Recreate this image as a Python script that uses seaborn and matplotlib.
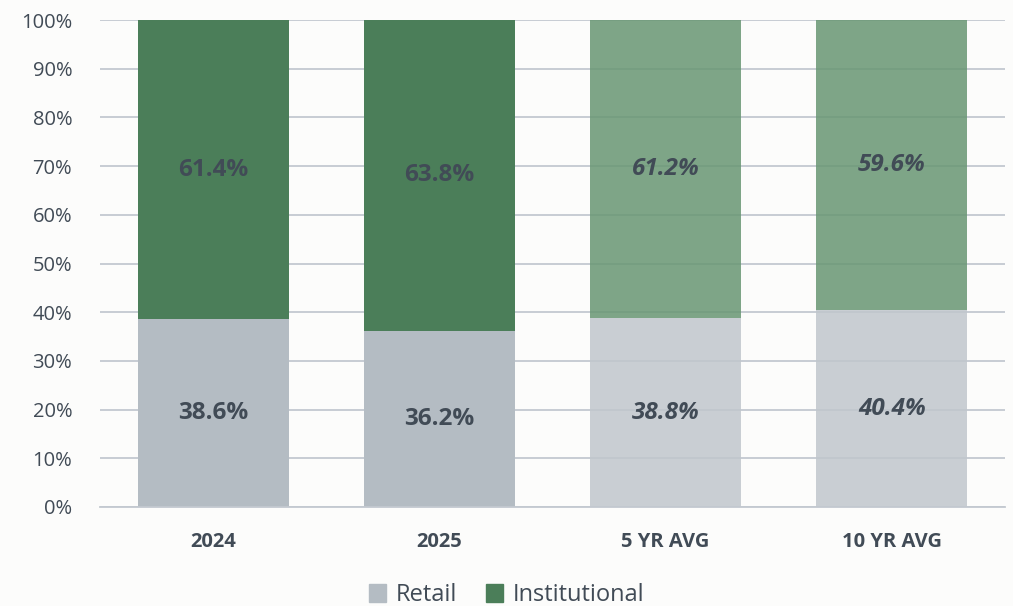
import numpy as np
import pandas as pd
import matplotlib.pyplot as plt
import seaborn as sns
from matplotlib.patches import Patch
from matplotlib.ticker import PercentFormatter

categories = ['2024', '2025', '5 YR AVG', '10 YR AVG']
retail = [38.6, 36.2, 38.8, 40.4]
institutional = [61.4, 63.8, 61.2, 59.6]

# averages are slightly transparent so the grid shows through them
retail_colors = ['#b4bcc3', '#b4bcc3', '#c0c6cc', '#c0c6cc']
inst_colors = ['#4b7e59', '#4b7e59', '#689673', '#689673']
bar_alpha = [1.0, 1.0, 0.85, 0.85]
text_color = '#414b56'

df = pd.DataFrame({'cat': categories, 'retail': retail,
                   'inst': institutional})

sns.set_theme(style='white')
plt.rcParams['font.family'] = ['Open Sans', 'DejaVu Sans']

fig = plt.figure(figsize=(10.13, 6.06), dpi=100)
fig.patch.set_facecolor('#fcfcfb')
ax = fig.add_axes([100/1013, 1 - 507/606, 905/1013, 487/606])
ax.set_facecolor('none')

sns.barplot(data=df, x='cat', y='retail', hue='cat', palette=retail_colors,
            width=0.668, saturation=1, legend=False, ax=ax, linewidth=0)
n = len(ax.patches)
sns.barplot(data=df, x='cat', y='inst', hue='cat', palette=inst_colors,
            width=0.668, saturation=1, legend=False, ax=ax, linewidth=0)

# stack institutional on top of retail
for p in ax.patches[n:]:
    i = int(round(p.get_x() + p.get_width() / 2))
    p.set_y(retail[i])
for p in ax.patches:
    i = int(round(p.get_x() + p.get_width() / 2))
    p.set_alpha(bar_alpha[i])
    p.set_zorder(5 if i < 2 else 2)

ax.set_ylim(0, 100)
ax.set_xlim(-0.5, 3.5)
ax.set_yticks(np.arange(0, 101, 10))
ax.yaxis.set_major_formatter(PercentFormatter(decimals=0))
ax.grid(axis='y', color='#c3c9d0', linewidth=1.3, zorder=1)
ax.set_axisbelow(True)
for sp in ['top', 'right', 'left']:
    ax.spines[sp].set_visible(False)
ax.spines['bottom'].set_color('#c3c9d0')
ax.spines['bottom'].set_linewidth(1.3)
ax.spines['bottom'].set_zorder(6)

for i, (r, t) in enumerate(zip(retail, institutional)):
    style = 'normal' if i < 2 else 'italic'
    ax.text(i, r / 2, f'{r:.1f}%', ha='center', va='center', fontsize=17.5,
            fontweight='bold', style=style, color=text_color, zorder=7)
    ax.text(i, r + t / 2, f'{t:.1f}%', ha='center', va='center',
            fontsize=17.5, fontweight='bold', style=style, color=text_color,
            zorder=7)

ax.set_xlabel('')
ax.set_ylabel('')
ax.tick_params(axis='y', labelsize=14.5, colors=text_color, length=0, pad=20)
ax.tick_params(axis='x', labelsize=14.5, colors=text_color, length=0, pad=18)
for lbl in ax.get_xticklabels():
    lbl.set_fontweight('bold')

handles = [Patch(color=retail_colors[0], label='Retail'),
           Patch(color=inst_colors[0], label='Institutional')]
fig.legend(handles=handles, loc='lower center', ncol=2, frameon=False,
           fontsize=17, bbox_to_anchor=(0.5, -0.037), handlelength=0.75,
           handleheight=0.75, handletextpad=0.4, columnspacing=1.2,
           labelcolor=text_color)

fig.savefig('out.png', dpi=100, facecolor=fig.get_facecolor())
